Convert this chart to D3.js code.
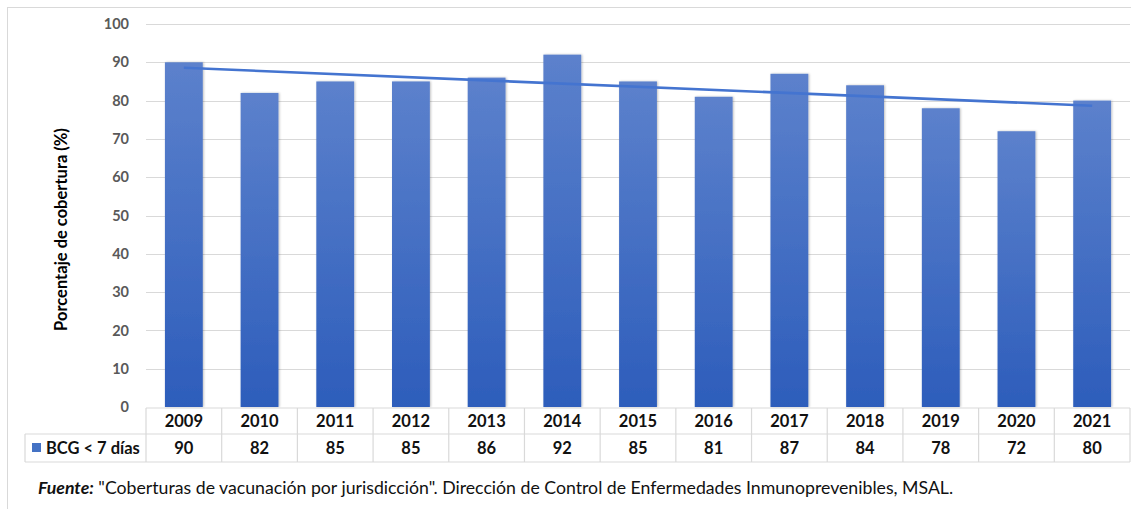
<!DOCTYPE html>
<html><head><meta charset="utf-8">
<script src="https://cdn.jsdelivr.net/npm/d3@7"></script>
<style>html,body{margin:0;padding:0;background:#fff;}svg{display:block;font-family:Lato,"Open Sans",sans-serif;}</style>
</head><body>
<svg id="c" width="1131" height="509"></svg>
<script>
const years = ["2009","2010","2011","2012","2013","2014","2015","2016","2017","2018","2019","2020","2021"];
const values = [90,82,85,85,86,92,85,81,87,84,78,72,80];
const yTicks = [0,10,20,30,40,50,60,70,80,90,100];
const seriesName = "BCG < 7 días";
const yLabel = "Porcentaje de cobertura (%)";
const sourceBold = "Fuente:";
const sourceText = " \"Coberturas de vacunación por jurisdicción\". Dirección de Control de Enfermedades Inmunoprevenibles, MSAL.";

const svg = d3.select("#c");
const W = 1131, H = 509;
const plotL = 146, plotR = 1130, plotT = 24, plotB = 407;
const grid = "#d9d9d9";

// outer frame
svg.append("rect").attr("x",7.5).attr("y",7.5).attr("width",W+10).attr("height",H+10)
  .attr("fill","none").attr("stroke","#d9d9d9").attr("stroke-width",1);

const defs = svg.append("defs");
const grad = defs.append("linearGradient").attr("id","bg").attr("x1",0).attr("y1",0).attr("x2",0).attr("y2",1);
grad.append("stop").attr("offset","0%").attr("stop-color","#5c81cc");
grad.append("stop").attr("offset","100%").attr("stop-color","#2d5dbb");
const f = defs.append("filter").attr("id","sh").attr("x","-20%").attr("y","-5%").attr("width","140%").attr("height","110%");
f.append("feDropShadow").attr("dx",1).attr("dy",0).attr("stdDeviation",1.2).attr("flood-color","#000").attr("flood-opacity",0.25);

const x = d3.scaleBand().domain(years).range([plotL, plotR]).paddingInner(0.5).paddingOuter(0.25);
const y = d3.scaleLinear().domain([0,100]).range([plotB, plotT]);

// gridlines
svg.append("g").selectAll("line").data(yTicks.filter(d=>d>0)).join("line")
  .attr("x1",plotL).attr("x2",plotR).attr("y1",d=>Math.round(y(d))+0.5).attr("y2",d=>Math.round(y(d))+0.5)
  .attr("stroke",grid).attr("stroke-width",1);

// y axis labels
const yAxis = d3.axisLeft(y).tickValues(yTicks).tickSize(0).tickPadding(0);
const ga = svg.append("g").attr("transform",`translate(${plotL-17},0)`).call(yAxis);
ga.select(".domain").remove();
ga.selectAll("text").attr("fill","#595959").attr("font-size",14.5).attr("font-weight","bold")
  .attr("font-family","Lato, sans-serif");

// bars
svg.append("g").selectAll("rect").data(values).join("rect")
  .attr("x",(d,i)=>x(years[i])).attr("width",x.bandwidth())
  .attr("y",d=>y(d)).attr("height",d=>y(0)-y(d))
  .attr("fill","url(#bg)").attr("filter","url(#sh)");

// linear trend line (least squares over series)
const n = values.length;
const mx = d3.mean(d3.range(n)), my = d3.mean(values);
const slope = d3.sum(d3.range(n), i=>(i-mx)*(values[i]-my)) / d3.sum(d3.range(n), i=>(i-mx)*(i-mx));
const icpt = my - slope*mx;
const cx = i => x(years[i]) + x.bandwidth()/2;
svg.append("line")
  .attr("x1",cx(0)).attr("y1",y(icpt)).attr("x2",cx(n-1)).attr("y2",y(icpt+slope*(n-1)))
  .attr("stroke","#4474d0").attr("stroke-width",2.6);

// data table
const step = x.step();
const rowYear = [408, 434], rowVal = [434, 462];
const tg = svg.append("g").attr("stroke",grid).attr("stroke-width",1.2).attr("fill","none");
tg.append("line").attr("x1",plotL).attr("x2",plotR).attr("y1",rowYear[0]).attr("y2",rowYear[0]);
tg.append("line").attr("x1",25).attr("x2",plotR).attr("y1",rowVal[0]).attr("y2",rowVal[0]);
tg.append("line").attr("x1",25).attr("x2",plotR).attr("y1",rowVal[1]).attr("y2",rowVal[1]);
tg.append("line").attr("x1",25).attr("x2",25).attr("y1",rowVal[0]).attr("y2",rowVal[1]);
tg.selectAll("line.v").data(d3.range(n+1)).join("line").attr("class","v")
  .attr("x1",i=>plotL+i*step).attr("x2",i=>plotL+i*step).attr("y1",rowYear[0]).attr("y2",rowVal[1]);

svg.append("g").selectAll("text").data(years).join("text")
  .attr("x",d=>x(d)+x.bandwidth()/2).attr("y",(rowYear[0]+rowYear[1])/2).attr("dy","0.36em")
  .attr("text-anchor","middle").attr("font-size",16.5).attr("font-weight","bold").attr("fill","#111").text(d=>d);
svg.append("g").selectAll("text").data(values).join("text")
  .attr("x",(d,i)=>cx(i)).attr("y",(rowVal[0]+rowVal[1])/2).attr("dy","0.36em")
  .attr("text-anchor","middle").attr("font-size",16.5).attr("font-weight","bold").attr("fill","#111").text(d=>d);

// legend in table
svg.append("rect").attr("x",32).attr("y",443).attr("width",9).attr("height",9).attr("fill","#4472c4");
svg.append("text").attr("x",46).attr("y",(rowVal[0]+rowVal[1])/2).attr("dy","0.36em")
  .attr("font-size",16.5).attr("font-weight","bold").attr("fill","#111").text(seriesName);

// y label
svg.append("text").attr("transform",`translate(67,${(plotT+plotB)/2+14}) rotate(-90)`)
  .attr("text-anchor","middle").attr("font-size",16.5).attr("font-weight","bold").attr("fill","#000").text(yLabel);

// source
const src = svg.append("text").attr("x",38).attr("y",494).attr("font-size",17.7).attr("fill","#111");
src.append("tspan").attr("font-weight","bold").attr("font-style","italic").text(sourceBold);
src.append("tspan").text(sourceText);
</script>
</body></html>
